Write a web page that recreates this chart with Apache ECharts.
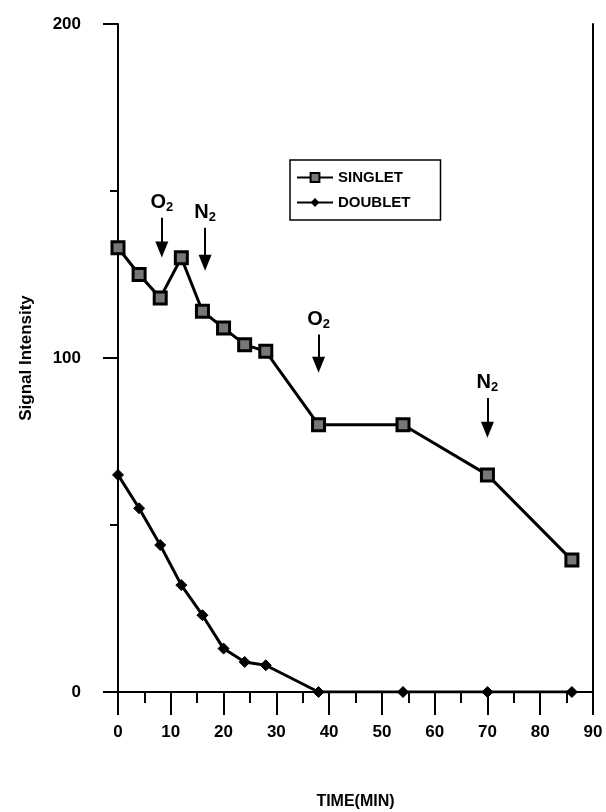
<!DOCTYPE html>
<html>
<head>
<meta charset="utf-8">
<script src="https://cdn.jsdelivr.net/npm/echarts@6/dist/echarts.min.js"></script>
<style>
  html, body { margin: 0; padding: 0; background: #fff; }
  #chart { width: 606px; height: 812px; }
</style>
</head>
<body>
<div id="chart"></div>
<script>
// 时间 (min)
const times = [0, 4, 8, 12, 16, 20, 24, 28, 38, 54, 70, 86];
// 信号强度
const singlet = [133, 125, 118, 130, 114, 109, 104, 102, 80, 80, 65, 39.5];
const doublet = [65, 55, 44, 32, 23, 13, 9, 8, 0, 0, 0, 0];
// 气体切换标注: [x, 箭头起点 y, 箭头终点 y, 文字]
const gasMarks = [
  [8.3, 142, 132.5, 'O'],
  [16.5, 139, 128.5, 'N'],
  [38, 107, 98, 'O'],
  [70, 88, 78.5, 'N'],
];

const font = 'Liberation Sans, Arial, sans-serif';

const chart = echarts.init(document.getElementById('chart'));

const pairs = (vals) => times.map((t, i) => [t, vals[i]]);

const option = {
  backgroundColor: '#fff',
  animation: false,
  grid: {
    left: 118,
    right: 13,
    top: 24,
    bottom: 120,
    outerBoundsMode: 'none',
  },
  legend: {
    left: 290,
    top: 160,
    orient: 'vertical',
    borderColor: '#000',
    borderWidth: 1.5,
    padding: [10, 30, 10, 6],
    itemGap: 10,
    itemWidth: 36,
    itemHeight: 11,
    selectedMode: false,
    textStyle: {
      fontFamily: font,
      fontWeight: 'bold',
      fontSize: 15,
      color: '#000',
    },
    data: ['SINGLET', 'DOUBLET'],
  },
  xAxis: {
    type: 'value',
    min: 0,
    max: 90,
    interval: 10,
    name: 'TIME(MIN)',
    nameLocation: 'middle',
    nameGap: 102,
    nameTextStyle: {
      fontFamily: font,
      fontWeight: 'bold',
      fontSize: 16,
      color: '#000',
    },
    splitLine: { show: false },
    axisLine: { lineStyle: { color: '#000', width: 2 } },
    axisTick: { length: 23, lineStyle: { color: '#000', width: 2 } },
    minorTick: {
      show: true,
      splitNumber: 2,
      length: 11,
      lineStyle: { color: '#000', width: 2 },
    },
    axisLabel: {
      margin: 32,
      fontFamily: font,
      fontWeight: 'bold',
      fontSize: 17,
      color: '#000',
    },
  },
  yAxis: [
    {
      type: 'value',
      min: 0,
      max: 200,
      interval: 100,
      name: 'Signal Intensity',
      nameLocation: 'middle',
      nameGap: 83,
      nameTextStyle: {
        fontFamily: 'Liberation Sans Narrow, Liberation Sans, Arial',
        fontWeight: 'bold',
        fontSize: 17,
        color: '#000',
      },
      splitLine: { show: false },
      axisLine: { show: true, lineStyle: { color: '#000', width: 2 } },
      axisTick: { show: true, length: 15, lineStyle: { color: '#000', width: 2 } },
      minorTick: {
        show: true,
        splitNumber: 2,
        length: 8,
        lineStyle: { color: '#000', width: 2 },
      },
      axisLabel: {
        margin: 37,
        fontFamily: font,
        fontWeight: 'bold',
        fontSize: 17,
        color: '#000',
      },
    },
    {
      // 右侧边框
      type: 'value',
      min: 0,
      max: 200,
      position: 'right',
      splitLine: { show: false },
      axisLine: { show: true, lineStyle: { color: '#000', width: 2 } },
      axisTick: { show: false },
      axisLabel: { show: false },
    },
  ],
  series: [
    {
      name: 'SINGLET',
      type: 'line',
      data: pairs(singlet),
      symbol: 'rect',
      symbolSize: 12,
      lineStyle: { color: '#000', width: 3 },
      itemStyle: { color: '#777', borderColor: '#000', borderWidth: 3 },
      z: 3,
      markLine: {
        silent: true,
        symbol: ['none', 'triangle'],
        symbolSize: [13, 16],
        lineStyle: { color: '#000', width: 2, type: 'solid' },
        label: {
          show: true,
          position: 'start',
          distance: 4,
          color: '#000',
          rich: {
            a: { fontFamily: font, fontWeight: 'bold', fontSize: 20, color: '#000' },
            b: { fontFamily: font, fontWeight: 'bold', fontSize: 13, color: '#000', padding: [10, 0, 0, 0] },
          },
        },
        data: gasMarks.map((m) => [
          {
            coord: [m[0], m[1]],
            label: { formatter: '{a|' + m[3] + '}{b|2}' },
          },
          { coord: [m[0], m[2]] },
        ]),
      },
    },
    {
      name: 'DOUBLET',
      type: 'line',
      data: pairs(doublet),
      symbol: 'diamond',
      symbolSize: 11,
      lineStyle: { color: '#000', width: 3 },
      itemStyle: { color: '#000', borderColor: '#000' },
      z: 3,
    },
  ],
};

chart.setOption(option);
</script>
</body>
</html>
